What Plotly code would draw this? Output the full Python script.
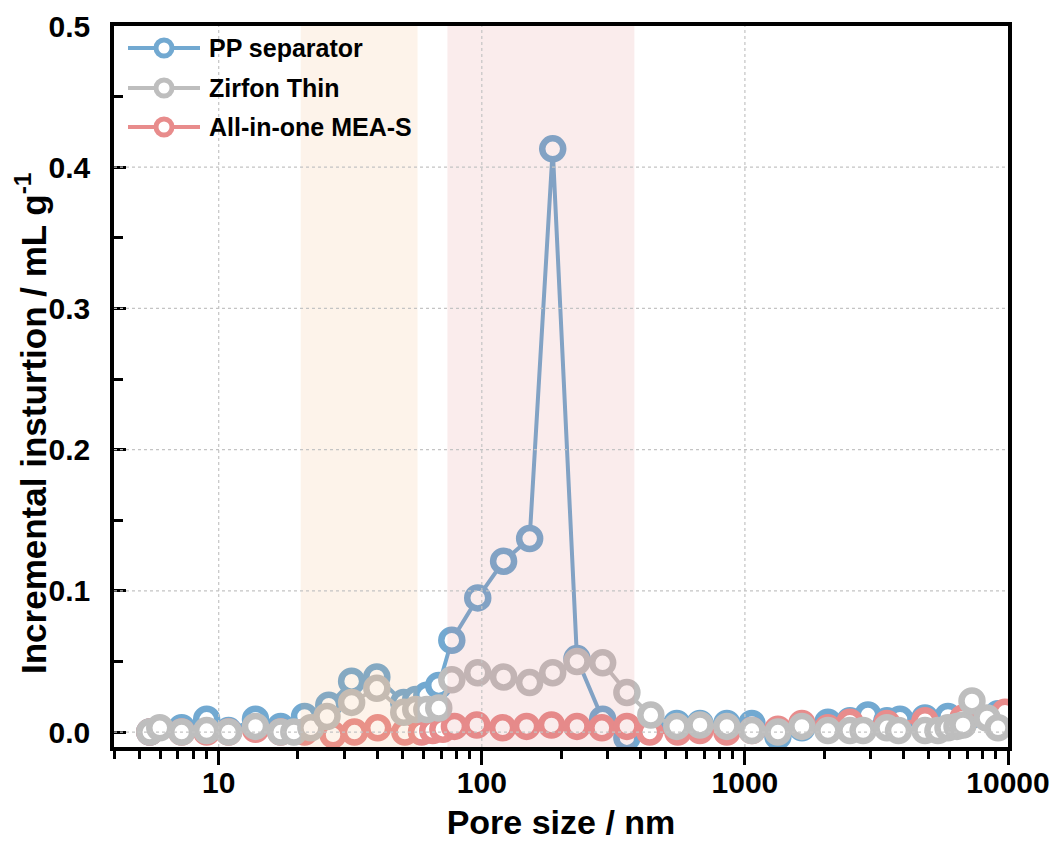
import plotly.graph_objects as go

# ---------------- data ----------------
pp_x = [5.47, 7.23, 9.00, 10.9, 13.8, 17.2, 21.2, 26.2, 32.0, 39.9, 50.5, 56.1, 61.8, 68.6,
        76.9, 96.5, 121, 152, 186, 230, 288, 356, 439, 551, 675, 854, 1063, 1335, 1647,
        2068, 2507, 2936, 3467, 3886, 4836, 5914, 7296, 9163]
pp_y = [0.000, 0.003, 0.009, 0.001, 0.009, 0.004, 0.011, 0.019, 0.036, 0.039, 0.021, 0.023, 0.026, 0.033,
        0.065, 0.095, 0.121, 0.137, 0.413, 0.052, 0.009, -0.004, 0.004, 0.006, 0.006, 0.006, 0.006, -0.003, 0.003,
        0.007, 0.008, 0.012, 0.008, 0.009, 0.010, 0.011, 0.012, 0.013]

zf_x = [5.47, 5.97, 7.23, 9.00, 10.9, 13.8, 17.2, 19.3, 22.4, 25.8, 32.0, 39.9, 50.5, 56.1, 61.8, 68.6,
        76.9, 96.5, 121, 152, 186, 230, 288, 356, 439, 551, 675, 854, 1063, 1335, 1647, 2068, 2507,
        2813, 3467, 3836, 4836, 5418, 5914, 6400, 6745, 7296, 8322, 9163]
zf_y = [0.000, 0.003, 0.000, 0.001, 0.000, 0.004, 0.000, 0.000, 0.003, 0.011, 0.021, 0.031, 0.014, 0.016, 0.016, 0.017,
        0.037, 0.042, 0.039, 0.035, 0.042, 0.050, 0.049, 0.028, 0.012, 0.004, 0.005, 0.004, 0.001, 0.000, 0.004, 0.001, 0.001,
        0.001, 0.003, 0.001, 0.001, 0.001, 0.003, 0.004, 0.005, 0.022, 0.010, 0.003]

mea_x = [5.47, 7.23, 9.00, 10.9, 13.8, 17.2, 21.2, 27.2, 32.8, 40.2, 51.0, 59.0, 65.1, 71.1, 78.7,
         95.7, 120, 148, 184, 230, 286, 356, 435, 556, 675, 854, 1063, 1335, 1647, 2068, 2507,
         3467, 4836, 6745, 9741]
mea_y = [0.000, 0.000, 0.000, 0.000, 0.002, 0.000, 0.000, -0.002, 0.000, 0.003, 0.000, 0.000, 0.001, 0.002, 0.004,
         0.005, 0.003, 0.004, 0.005, 0.004, 0.003, 0.004, 0.000, 0.000, 0.001, 0.000, 0.001, 0.002, 0.006, 0.003, 0.007,
         0.006, 0.008, 0.010, 0.014]

series_names = ["PP separator", "Zirfon Thin", "All-in-one MEA-S"]
series_colors = ["#72A9D1", "#BEBEBE", "#E88C8C"]

# shaded pore-size regions (nm)
band_ranges = [(20.5, 57.0), (74.0, 380.0)]
band_colors = ["rgba(242,175,115,0.15)", "rgba(222,128,128,0.15)"]

x_ticks = [10, 100, 1000, 10000]
x_minor = [m * 10 ** d for d in range(0, 4) for m in range(2, 10) if m * 10 ** d >= 4]
y_ticks = [0.0, 0.1, 0.2, 0.3, 0.4, 0.5]

x_title = "Pore size / nm"
y_title = "Incremental insturtion / mL g<sup>-1</sup>"

# ---------------- layout constants ----------------
# the page body has an 8px default margin, so the figure is drawn 8px smaller
OFF = 8
W, H = 1057 - OFF, 841 - OFF
ML, MR, MT, MB = 114 - OFF, 49, 26 - OFF, 94
PW, PH = W - ML - MR, H - MT - MB
font_family = "Liberation Sans, Arial, sans-serif"

# legend / title geometry (page pixels)
LEG_ROWS_Y = [48, 88, 127]
LEG_LINE_X = (128, 200)
LEG_TEXT_X = 207
YTITLE_X, YTITLE_Y = 31, 423


def px_to_paper_x(px):
    return (px - OFF - ML) / PW


def px_to_paper_y(py):
    return 1 - (py - OFF - MT) / PH


# ---------------- figure ----------------
fig = go.Figure()
data = {0: (pp_x, pp_y), 1: (zf_x, zf_y), 2: (mea_x, mea_y)}
# draw order: PP, MEA, Zirfon (Zirfon on top)
for idx in [0, 2, 1]:
    xs, ys = data[idx]
    fig.add_trace(go.Scatter(
        x=xs, y=ys, mode="lines+markers", name=series_names[idx], showlegend=False,
        line=dict(color=series_colors[idx], width=4),
        marker=dict(symbol="circle", size=21, color="white",
                    line=dict(color=series_colors[idx], width=6.5)),
    ))

shapes = []
annotations = []
for (a, b), c in zip(band_ranges, band_colors):
    shapes.append(dict(type="rect", xref="x", yref="paper", x0=a, x1=b, y0=0, y1=1,
                       fillcolor=c, line=dict(width=0), layer="above"))
for xv in x_ticks[:-1]:
    shapes.append(dict(type="line", xref="x", yref="paper", x0=xv, x1=xv, y0=0, y1=1,
                       line=dict(color="#C4C4C4", width=1.2, dash="dot"), layer="above"))
for yv in y_ticks[:-1]:
    shapes.append(dict(type="line", xref="paper", yref="y", x0=0, x1=1, y0=yv, y1=yv,
                       line=dict(color="#C4C4C4", width=1.2, dash="dot"), layer="above"))

# custom legend (line + open circle + label)
for name, col, ry in zip(series_names, series_colors, LEG_ROWS_Y):
    yp = px_to_paper_y(ry)
    shapes.append(dict(type="line", xref="paper", yref="paper",
                       x0=px_to_paper_x(LEG_LINE_X[0]), x1=px_to_paper_x(LEG_LINE_X[1]),
                       y0=yp, y1=yp, line=dict(color=col, width=4), layer="above"))
    cx = px_to_paper_x((LEG_LINE_X[0] + LEG_LINE_X[1]) / 2)
    shapes.append(dict(type="circle", xref="paper", yref="paper",
                       xsizemode="pixel", ysizemode="pixel", xanchor=cx, yanchor=yp,
                       x0=-8, x1=8, y0=-8, y1=8,
                       fillcolor="white", line=dict(color=col, width=5), layer="above"))
    annotations.append(dict(text=name, xref="paper", yref="paper",
                            x=px_to_paper_x(LEG_TEXT_X), y=yp, xanchor="left", yanchor="middle",
                            showarrow=False,
                            font=dict(family=font_family, size=25, weight="bold", color="black")))

# y-axis title as a rotated annotation
annotations.append(dict(text=y_title, xref="paper", yref="paper",
                        x=px_to_paper_x(YTITLE_X), y=px_to_paper_y(YTITLE_Y),
                        xanchor="center", yanchor="middle", textangle=-90, showarrow=False,
                        font=dict(family=font_family, size=35, weight="bold", color="black")))

fig.update_layout(
    width=W, height=H,
    margin=dict(l=ML, r=MR, t=MT, b=MB, autoexpand=False),
    paper_bgcolor="white", plot_bgcolor="white",
    font=dict(family=font_family, color="black"),
    shapes=shapes, annotations=annotations,
    showlegend=False,
    xaxis=dict(
        type="log", range=[0.602, 4.0], automargin=False,
        tickvals=x_ticks, ticktext=[str(v) for v in x_ticks],
        ticks="outside", ticklen=14, tickwidth=3, tickcolor="black",
        minor=dict(tickvals=x_minor, ticks="outside", ticklen=8, tickwidth=3,
                   tickcolor="black", showgrid=False),
        showgrid=False, zeroline=False, ticklabelstandoff=-8,
        showline=True, linewidth=3.5, linecolor="black", mirror=True,
        tickfont=dict(family=font_family, size=30, weight="bold"),
        title=dict(text=x_title, standoff=18,
                   font=dict(family=font_family, size=34, weight="bold")),
    ),
    yaxis=dict(
        range=[-0.0106, 0.5], automargin=False,
        tickvals=y_ticks, ticktext=[f"{v:.1f}" for v in y_ticks],
        ticks="inside", ticklen=12, tickwidth=3, tickcolor="black",
        minor=dict(ticks="inside", ticklen=9, tickwidth=3, tickcolor="black", dtick=0.05, showgrid=False),
        showgrid=False, zeroline=False, ticklabelstandoff=14,
        showline=True, linewidth=3.5, linecolor="black", mirror=True,
        tickfont=dict(family=font_family, size=30, weight="bold"),
    ),
)

fig.write_html("out.html")
